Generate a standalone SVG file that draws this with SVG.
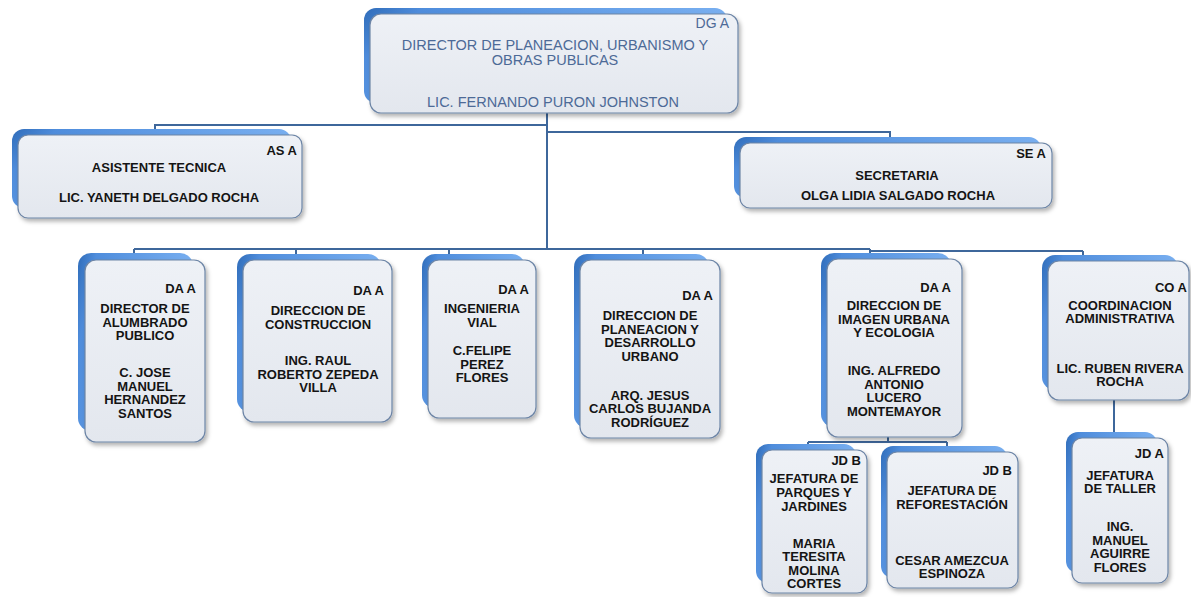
<svg xmlns="http://www.w3.org/2000/svg" width="1191" height="597" viewBox="0 0 1191 597">
<defs>
<linearGradient id="gBack" x1="0" y1="0" x2="1" y2="0.3">
<stop offset="0" stop-color="#2f6cb9"/>
<stop offset="0.15" stop-color="#4f8ddc"/>
<stop offset="1" stop-color="#7cb2f2"/>
</linearGradient>
<linearGradient id="gFront" x1="0" y1="0" x2="0" y2="1">
<stop offset="0" stop-color="#eef1f6"/>
<stop offset="1" stop-color="#e3e7ee"/>
</linearGradient>
<filter id="sh" x="-10%" y="-10%" width="125%" height="125%">
<feDropShadow dx="2" dy="3" stdDeviation="2" flood-color="#000" flood-opacity="0.3"/>
</filter>
</defs>
<style>
.back{fill:url(#gBack);}
.front{fill:url(#gFront);stroke:#6d85a6;stroke-width:1.2;filter:url(#sh);}
.t{font-family:"Liberation Sans",Arial,sans-serif;font-size:13px;font-weight:bold;fill:#141414;text-anchor:middle;}
.c{font-family:"Liberation Sans",Arial,sans-serif;font-size:13px;font-weight:bold;fill:#141414;text-anchor:end;}
.tt{font-family:"Liberation Sans",Arial,sans-serif;font-size:14.5px;fill:#4d6a97;text-anchor:middle;}
.ct{font-family:"Liberation Sans",Arial,sans-serif;font-size:14px;fill:#4d6a97;text-anchor:end;}
.con{fill:none;stroke:#3e679b;stroke-width:2;}
</style>
<g id="connectors">
<path class="con" d="M547,113 V249"/>
<path class="con" d="M547,125 H155 V131"/>
<path class="con" d="M547,132 H890 V138"/>
<path class="con" d="M134,249 H870 M870,251 H1083"/>
<path class="con" d="M134,249 V254 M296,249 V255 M449,249 V255 M643,249 V254 M870,249 V254 M1083,251 V256"/>
<path class="con" d="M888,437 V442 M808,442 H947 M808,442 V446 M947,442 V448"/>
<path class="con" d="M1114,400 V433"/>
</g>
<g id="node-dg">
<rect class="back" x="364" y="8" width="363" height="95" rx="12"/>
<rect class="front" x="370" y="14" width="368" height="99" rx="11"/>
<text class="ct" x="729" y="28">DG A</text>
<text class="tt" x="555" y="50">DIRECTOR DE PLANEACION, URBANISMO Y</text>
<text class="tt" x="555" y="65">OBRAS PUBLICAS</text>
<text class="tt" x="553" y="107">LIC. FERNANDO PURON JOHNSTON</text>
</g>
<g id="node-as">
<rect class="back" x="12" y="129" width="279" height="79" rx="12"/>
<rect class="front" x="18" y="135" width="284" height="83" rx="10"/>
<text class="c" x="297" y="155">AS A</text>
<text class="t" x="159" y="172">ASISTENTE TECNICA</text>
<text class="t" x="159" y="202">LIC. YANETH DELGADO ROCHA</text>
</g>
<g id="node-se">
<rect class="back" x="734" y="137" width="307" height="61" rx="12"/>
<rect class="front" x="740" y="143" width="312" height="65" rx="10"/>
<text class="c" x="1046" y="158">SE A</text>
<text class="t" x="897" y="180">SECRETARIA</text>
<text class="t" x="898" y="200">OLGA LIDIA SALGADO ROCHA</text>
</g>
<g id="node-da1">
<rect class="back" x="78" y="253" width="115" height="178" rx="13"/>
<rect class="front" x="85" y="260" width="120" height="182" rx="11"/>
<text class="c" x="196" y="293">DA A</text>
<text class="t" x="145" y="313">DIRECTOR DE</text>
<text class="t" x="145" y="327">ALUMBRADO</text>
<text class="t" x="145" y="340">PUBLICO</text>
<text class="t" x="145" y="377">C. JOSE</text>
<text class="t" x="145" y="391">MANUEL</text>
<text class="t" x="145" y="404">HERNANDEZ</text>
<text class="t" x="145" y="418">SANTOS</text>
</g>
<g id="node-da2">
<rect class="back" x="237" y="254" width="144" height="158" rx="13"/>
<rect class="front" x="243" y="260" width="149" height="162" rx="11"/>
<text class="c" x="384" y="295">DA A</text>
<text class="t" x="318" y="315">DIRECCION DE</text>
<text class="t" x="318" y="329">CONSTRUCCION</text>
<text class="t" x="318" y="365">ING. RAUL</text>
<text class="t" x="318" y="379">ROBERTO ZEPEDA</text>
<text class="t" x="318" y="392">VILLA</text>
</g>
<g id="node-da3">
<rect class="back" x="422" y="254" width="103" height="154" rx="13"/>
<rect class="front" x="428" y="260" width="108" height="158" rx="11"/>
<text class="c" x="529" y="294">DA A</text>
<text class="t" x="482" y="313">INGENIERIA</text>
<text class="t" x="482" y="327">VIAL</text>
<text class="t" x="482" y="355">C.FELIPE</text>
<text class="t" x="482" y="369">PEREZ</text>
<text class="t" x="482" y="382">FLORES</text>
</g>
<g id="node-da4">
<rect class="back" x="574" y="254" width="135" height="174" rx="13"/>
<rect class="front" x="580" y="260" width="140" height="178" rx="11"/>
<text class="c" x="713" y="300">DA A</text>
<text class="t" x="650" y="320">DIRECCION DE</text>
<text class="t" x="650" y="334">PLANEACION Y</text>
<text class="t" x="650" y="347">DESARROLLO</text>
<text class="t" x="650" y="361">URBANO</text>
<text class="t" x="650" y="400">ARQ. JESUS</text>
<text class="t" x="650" y="413">CARLOS BUJANDA</text>
<text class="t" x="650" y="427">RODRÍGUEZ</text>
</g>
<g id="node-da5">
<rect class="back" x="821" y="253" width="130" height="174" rx="13"/>
<rect class="front" x="827" y="259" width="135" height="178" rx="11"/>
<text class="c" x="951" y="292">DA A</text>
<text class="t" x="894" y="310">DIRECCION DE</text>
<text class="t" x="894" y="324">IMAGEN URBANA</text>
<text class="t" x="894" y="337">Y ECOLOGIA</text>
<text class="t" x="894" y="375">ING. ALFREDO</text>
<text class="t" x="894" y="389">ANTONIO</text>
<text class="t" x="894" y="402">LUCERO</text>
<text class="t" x="894" y="416">MONTEMAYOR</text>
</g>
<g id="node-co">
<rect class="back" x="1042" y="255" width="136" height="135" rx="13"/>
<rect class="front" x="1048" y="261" width="141" height="139" rx="11"/>
<text class="c" x="1187" y="292">CO A</text>
<text class="t" x="1120" y="310">COORDINACION</text>
<text class="t" x="1120" y="323">ADMINISTRATIVA</text>
<text class="t" x="1120" y="373">LIC. RUBEN RIVERA</text>
<text class="t" x="1120" y="386">ROCHA</text>
</g>
<g id="node-jdb1">
<rect class="back" x="756" y="444" width="100" height="139" rx="12"/>
<rect class="front" x="762" y="450" width="105" height="143" rx="10"/>
<text class="c" x="861" y="465">JD B</text>
<text class="t" x="814" y="483">JEFATURA DE</text>
<text class="t" x="814" y="497">PARQUES Y</text>
<text class="t" x="814" y="511">JARDINES</text>
<text class="t" x="814" y="548">MARIA</text>
<text class="t" x="814" y="561">TERESITA</text>
<text class="t" x="814" y="575">MOLINA</text>
<text class="t" x="814" y="588">CORTES</text>
</g>
<g id="node-jdb2">
<rect class="back" x="881" y="446" width="126" height="132" rx="12"/>
<rect class="front" x="887" y="452" width="131" height="136" rx="10"/>
<text class="c" x="1012" y="475">JD B</text>
<text class="t" x="952" y="495">JEFATURA DE</text>
<text class="t" x="952" y="509">REFORESTACIÓN</text>
<text class="t" x="952" y="565">CESAR AMEZCUA</text>
<text class="t" x="952" y="578">ESPINOZA</text>
</g>
<g id="node-jda">
<rect class="back" x="1066" y="432" width="91" height="141" rx="12"/>
<rect class="front" x="1072" y="438" width="96" height="145" rx="10"/>
<text class="c" x="1164" y="458">JD A</text>
<text class="t" x="1120" y="480">JEFATURA</text>
<text class="t" x="1120" y="493">DE TALLER</text>
<text class="t" x="1120" y="531">ING.</text>
<text class="t" x="1120" y="545">MANUEL</text>
<text class="t" x="1120" y="558">AGUIRRE</text>
<text class="t" x="1120" y="572">FLORES</text>
</g>
</svg>
